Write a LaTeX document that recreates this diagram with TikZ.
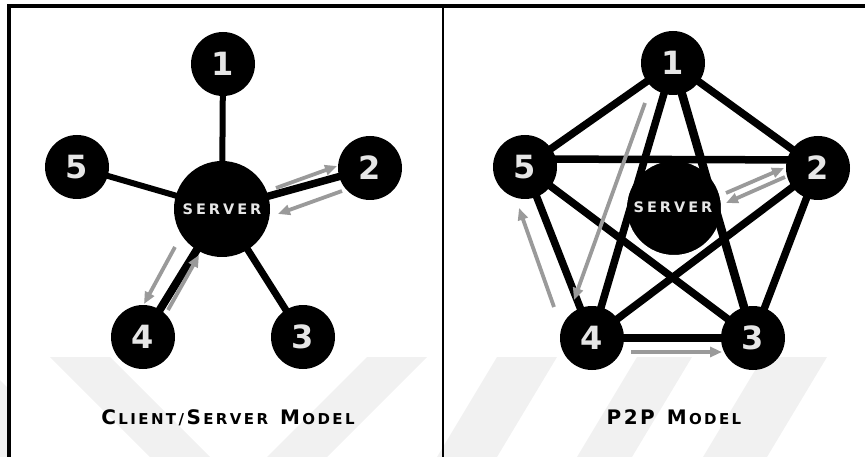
\documentclass[tikz,border=0pt]{standalone}
\usepackage{fontspec}
\setmainfont{DejaVu Sans}
\usetikzlibrary{arrows.meta}
\definecolor{wm}{HTML}{F1F1F1}
\definecolor{flowgray}{HTML}{9A9A9A}
\definecolor{lbl}{HTML}{E6E6E6}
\newcommand\capA{\bfseries\fontsize{20}{20}\selectfont}
\newcommand\capB{\bfseries\fontsize{15}{15}\selectfont}
\newcommand\gk{\kern2.4pt}
\newcommand\sk{\kern3pt}
\newcommand\srvtext{S\sk E\sk R\sk V\sk E\sk R}
\begin{document}
\begin{tikzpicture}[x=1pt,y=-1pt,
  client/.style={circle,fill=black,minimum size=64pt,inner sep=0pt,text=lbl,
    font=\bfseries\fontsize{32}{32}\selectfont},
  srv/.style={circle,fill=black,minimum size=96pt,inner sep=0pt,text=lbl,
    font=\bfseries\fontsize{14.5}{15}\selectfont},
  link/.style={line width=6pt},
  plink/.style={line width=7.5pt},
  flow/.style={draw=flowgray,line width=3.8pt,-{Triangle[length=12pt,width=10pt]}},
  caption/.style={inner sep=0pt,anchor=base}]
\useasboundingbox (0,0) rectangle (865,457);
% watermark
\fill[wm] (50,357) -- (110,357) -- (210,457) -- (150,457) -- cycle;
\fill[wm] (367,357) -- (427,357) -- (327,457) -- (267,457) -- cycle;
\fill[wm] (0,380) -- (8,388) -- (8,457) -- (0,457) -- cycle;
\fill[wm] (497,357) -- (557,357) -- (497,457) -- (437,457) -- cycle;
\fill[wm] (637,357) -- (692,357) -- (632,457) -- (577,457) -- cycle;
\fill[wm] (763,357) -- (827,357) -- (767,457) -- (703,457) -- cycle;
% frame
\draw[line width=3.5pt] (7,6) -- (865,6);
\draw[line width=3.5pt] (9,4.25) -- (9,457);
\draw[line width=2.5pt] (443,6) -- (443,457);

% ---------- client / server ----------
\coordinate (sc) at (222,209);
\coordinate (q1) at (223,64);
\coordinate (q2) at (370,168);
\coordinate (q3) at (303,337);
\coordinate (q4) at (143,337);
\coordinate (q5) at (77,167);
\draw[link] (sc) -- (q1);
\draw[link,line width=7.5pt] (sc) -- (q2);
\draw[link,line width=7pt] (sc) -- (q3);
\draw[link,line width=8pt] (sc) -- (q4);
\draw[link] (sc) -- (q5);

\coordinate (a1s) at (276,188); \coordinate (a1e) at (337,166);
\coordinate (a2s) at (342,191); \coordinate (a2e) at (278,214);
\coordinate (a3s) at (175,247); \coordinate (a3e) at (144,304);
\coordinate (a4s) at (168,310); \coordinate (a4e) at (199,255);
\draw[flow] (a1s) -- (a1e);
\draw[flow] (a2s) -- (a2e);
\draw[flow] (a3s) -- (a3e);
\draw[flow] (a4s) -- (a4e);

\node[srv] (s) at (sc) {\srvtext};
\node[client] (c1) at (q1) {1};
\node[client] (c2) at (q2) {2};
\node[client] (c3) at (q3) {3};
\node[client] (c4) at (q4) {4};
\node[client] (c5) at (q5) {5};

\node[caption] (capL) at (228,424)
  {{\capA C}\gk{\capB L\gk I\gk E\gk N\gk T\gk /\gk}{\capA S}\gk{\capB E\gk R\gk V\gk E\gk R}\kern12pt{\capA M}\gk{\capB O\gk D\gk E\gk L}};

% ---------- P2P ----------
\node[srv,draw=white,line width=2pt] (ps) at (674,208) {};
\coordinate (p1) at (673,63);
\coordinate (p2) at (818,168);
\coordinate (p3) at (753,338);
\coordinate (p4) at (592,338);
\coordinate (p5) at (525,167);
\draw[plink] (p1) -- (p2);
\draw[plink] (p2) -- (p3);
\draw[plink,line width=8.5pt] (p3) -- (p4);
\draw[plink] (p4) -- (p5);
\draw[plink] (p5) -- (p1);
\draw[plink,line width=8.5pt] (p1) -- (p3);
\draw[plink] (p1) -- (p4);
\draw[plink] (p2) -- (p4);
\draw[plink] (p3) -- (p5);
\draw[plink] ([yshift=8pt]p5) -- ([yshift=8pt]p2);
\node[text=lbl,font=\bfseries\fontsize{14.5}{15}\selectfont] (pst) at (673,207) {\srvtext};

\coordinate (b1s) at (645,103); \coordinate (b1e) at (574,300);
\coordinate (b2s) at (554,307); \coordinate (b2e) at (519,208);
\coordinate (b3s) at (631,352); \coordinate (b3e) at (722,352);
\coordinate (b4s) at (726,193); \coordinate (b4e) at (784,168);
\coordinate (b5s) at (785,177); \coordinate (b5e) at (726,203);
\draw[flow] (b1s) -- (b1e);
\draw[flow] (b2s) -- (b2e);
\draw[flow] (b3s) -- (b3e);
\draw[flow] (b4s) -- (b4e);
\draw[flow] (b5s) -- (b5e);

\node[client] (n1) at (p1) {1};
\node[client] (n2) at (p2) {2};
\node[client] (n3) at (p3) {3};
\node[client] (n4) at (p4) {4};
\node[client] (n5) at (p5) {5};

\node[caption] (capR) at (674,424)
  {{\capA P\gk 2\gk P}\kern12pt{\capA M}\gk{\capB O\gk D\gk E\gk L}};
\end{tikzpicture}
\end{document}
